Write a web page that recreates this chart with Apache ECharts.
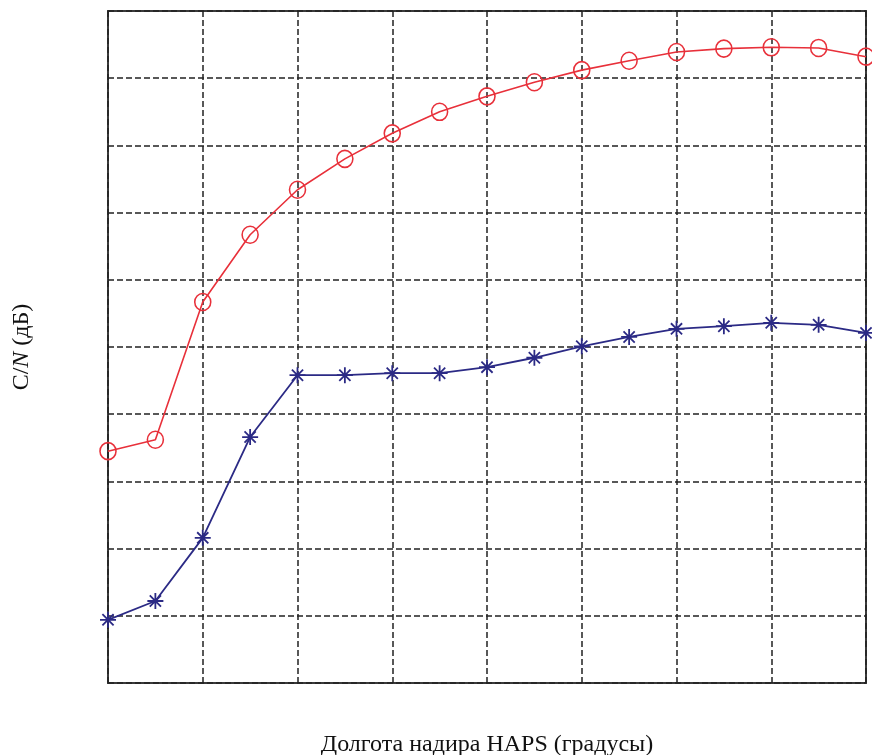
<!DOCTYPE html>
<html>
<head>
<meta charset="utf-8">
<script src="https://cdn.jsdelivr.net/npm/echarts@6/dist/echarts.min.js"></script>
<style>
  html, body { margin: 0; padding: 0; background: #fff; }
  #chart { width: 872px; height: 755px; }
</style>
</head>
<body>
<div id="chart"></div>
<script>
// longitude steps (17 points, grid every 2 steps)
var xSteps = [0, 1, 2, 3, 4, 5, 6, 7, 8, 9, 10, 11, 12, 13, 14, 15, 16];
// values (arbitrary units, axis 0..10)
var redValues = [3.45, 3.62, 5.67, 6.67, 7.34, 7.80, 8.18, 8.50, 8.73, 8.94, 9.12, 9.26, 9.39, 9.44, 9.46, 9.45, 9.32];
var blueValues = [0.94, 1.22, 2.16, 3.66, 4.58, 4.58, 4.61, 4.61, 4.70, 4.84, 5.01, 5.15, 5.27, 5.31, 5.36, 5.33, 5.21];

function pairs(vals) {
    return xSteps.map(function (x, i) { return [x, vals[i]]; });
}

var dom = document.getElementById('chart');
var myChart = echarts.init(dom);

var gridLine = {
    show: true,
    lineStyle: { color: '#222', width: 1.5, type: [6, 3] }
};

var asterisk = 'path://M0,-10L0,10M-10,0L10,0M-7,-7L7,7M-7,7L7,-7';

var option = {
    backgroundColor: '#fff',
    animation: false,
    grid: {
        left: 108, right: 6, top: 11, bottom: 72,
        containLabel: false,
        outerBoundsMode: 'none',
        show: true, borderColor: '#3a3a3a', borderWidth: 2
    },
    xAxis: {
        type: 'value',
        min: 0, max: 16, interval: 2,
        name: 'Долгота надира HAPS (градусы)',
        nameLocation: 'middle',
        nameGap: 50,
        nameTextStyle: { fontFamily: 'Liberation Serif', fontSize: 24, color: '#111' },
        axisLine: { show: false },
        axisTick: { show: false },
        axisLabel: { show: false },
        splitLine: gridLine
    },
    yAxis: {
        type: 'value',
        min: 0, max: 10, interval: 1,
        name: '{a|C/}{b|N}{a| (дБ)}',
        nameLocation: 'middle',
        nameGap: 74,
        nameTextStyle: {
            rich: {
                a: { fontFamily: 'Liberation Serif', fontSize: 24, color: '#111' },
                b: { fontFamily: 'Liberation Serif', fontSize: 24, fontStyle: 'italic', color: '#111' }
            }
        },
        axisLine: { show: false },
        axisTick: { show: false },
        axisLabel: { show: false },
        splitLine: gridLine
    },
    series: [
        {
            name: 'red',
            type: 'line',
            data: pairs(redValues),
            symbol: 'circle',
            symbolSize: [16, 17],
            lineStyle: { color: '#e8303a', width: 1.6 },
            itemStyle: { color: 'rgba(255,255,255,0)', borderColor: '#e8303a', borderWidth: 1.6 },
            z: 3
        },
        {
            name: 'blue',
            type: 'line',
            data: pairs(blueValues),
            symbol: asterisk,
            symbolSize: 16,
            lineStyle: { color: '#2b2a85', width: 1.8 },
            itemStyle: { color: '#2b2a85', borderColor: '#2b2a85', borderWidth: 1.8 },
            z: 3
        }
    ]
};

if (option && typeof option === 'object') {
    myChart.setOption(option, true);
}
</script>
</body>
</html>
